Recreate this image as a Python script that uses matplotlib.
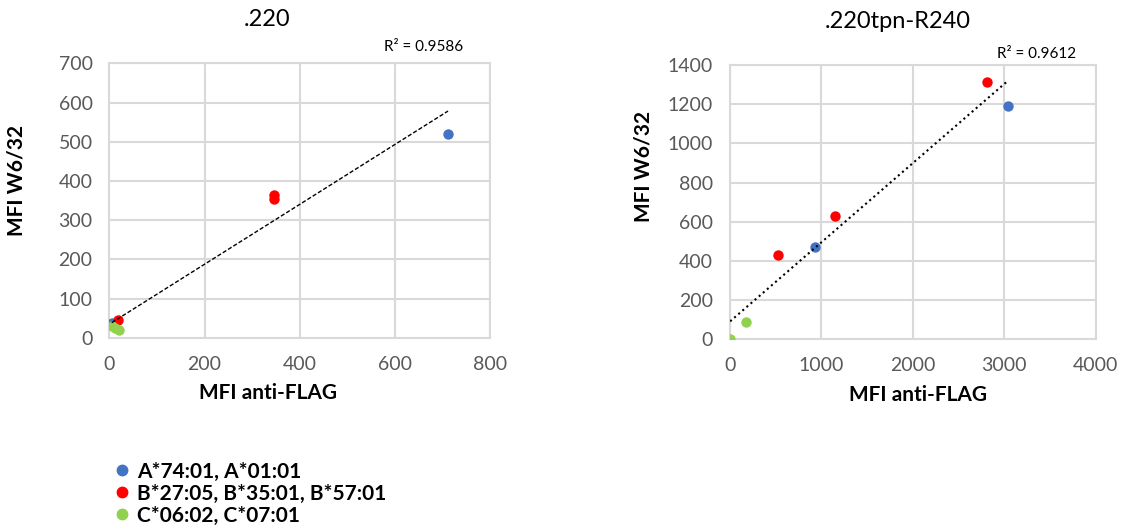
import numpy as np
import matplotlib
matplotlib.use("Agg")
import matplotlib.pyplot as plt
from matplotlib.lines import Line2D

plt.rcParams['font.family'] = ['Lato', 'DejaVu Sans']

series_names = ["A*74:01, A*01:01", "B*27:05, B*35:01, B*57:01", "C*06:02, C*07:01"]
series_colors = ["#4472C4", "#FF0000", "#92D050"]

# Left chart (.220)
left_title = ".220"
left_x = {
    "A": [5, 711],
    "B": [19, 346, 346],
    "C": [6, 12, 20],
}
left_y = {
    "A": [38, 521],
    "B": [45, 364, 355],
    "C": [30, 25, 20],
}
left_r2 = "R² = 0.9586"
left_xticks = [0, 200, 400, 600, 800]
left_yticks = [0, 100, 200, 300, 400, 500, 600, 700]

# Right chart (.220tpn-R240)
right_title = ".220tpn-R240"
right_x = {
    "A": [932, 3038],
    "B": [528, 1148, 2812],
    "C": [4, 182],
}
right_y = {
    "A": [472, 1193],
    "B": [430, 632, 1313],
    "C": [1, 90],
}
right_r2 = "R² = 0.9612"
right_xticks = [0, 1000, 2000, 3000, 4000]
right_yticks = [0, 200, 400, 600, 800, 1000, 1200, 1400]

xlabel = "MFI anti-FLAG"
ylabel = "MFI W6/32"

W, H = 1121, 532
fig = plt.figure(figsize=(W / 100, H / 100), dpi=100)
axL = fig.add_axes([0.0975, 0.365, 0.340, 0.516])
axR = fig.add_axes([0.651, 0.362, 0.3265, 0.5156])

grid_c = "#D9D9D9"
tick_c = "#595959"


def draw(ax, xs, ys, xticks, yticks, ls, lw, r2, r2_xy, xl_xy, yl_xy):
    keys = ["A", "B", "C"]
    allx, ally = [], []
    for k, c in zip(keys, series_colors):
        ax.scatter(xs[k], ys[k], s=56, color=c, zorder=3, linewidths=0)
        allx += xs[k]
        ally += ys[k]
    allx = np.array(allx, float)
    ally = np.array(ally, float)
    m, b = np.polyfit(allx, ally, 1)
    xl = np.array([allx.min(), allx.max()])
    ax.plot(xl, m * xl + b, color="black", ls=ls, lw=lw, zorder=4)
    ax.set_xlim(xticks[0], xticks[-1])
    ax.set_ylim(yticks[0], yticks[-1])
    ax.set_xticks(xticks)
    ax.set_yticks(yticks)
    ax.grid(True, color=grid_c, lw=1.5)
    ax.set_axisbelow(True)
    for sp in ax.spines.values():
        sp.set_color(grid_c)
        sp.set_linewidth(1.5)
    ax.tick_params(length=0, labelsize=14, colors=tick_c)
    ax.tick_params(axis="x", pad=13)
    ax.tick_params(axis="y", pad=12)
    ax.set_xlabel(xlabel, fontsize=15, fontweight="bold", va="top")
    ax.xaxis.set_label_coords(*xl_xy)
    ax.set_ylabel(ylabel, fontsize=15, fontweight="bold")
    ax.yaxis.set_label_coords(*yl_xy)
    ax.text(r2_xy[0], r2_xy[1], r2, transform=ax.transAxes, ha="left", va="bottom", fontsize=11)


draw(axL, left_x, left_y, left_xticks, left_yticks, (0, (3, 1.5)), 1.0,
     left_r2, (0.72, 1.035), (0.416, -0.165), (-0.218, 0.575))
draw(axR, right_x, right_y, right_xticks, right_yticks, (0, (1, 1.6)), 1.5,
     right_r2, (0.73, 1.015), (0.514, -0.167), (-0.208, 0.632))

fig.text(267 / W, 1 - 20 / H, left_title, ha="center", va="center", fontsize=17)
fig.text(898 / W, 1 - 22 / H, right_title, ha="center", va="center", fontsize=17)

handles = [Line2D([], [], marker="o", ls="none", color=c, markersize=7.5) for c in series_colors]
fig.legend(handles, series_names, loc="upper left", bbox_to_anchor=(0.0925, 0.152),
           frameon=False, prop={"size": 15, "weight": "bold"}, handletextpad=0.32,
           labelspacing=0.1, borderpad=0, handlelength=0.8,
           bbox_transform=fig.transFigure)

fig.savefig("out.png", dpi=100)
